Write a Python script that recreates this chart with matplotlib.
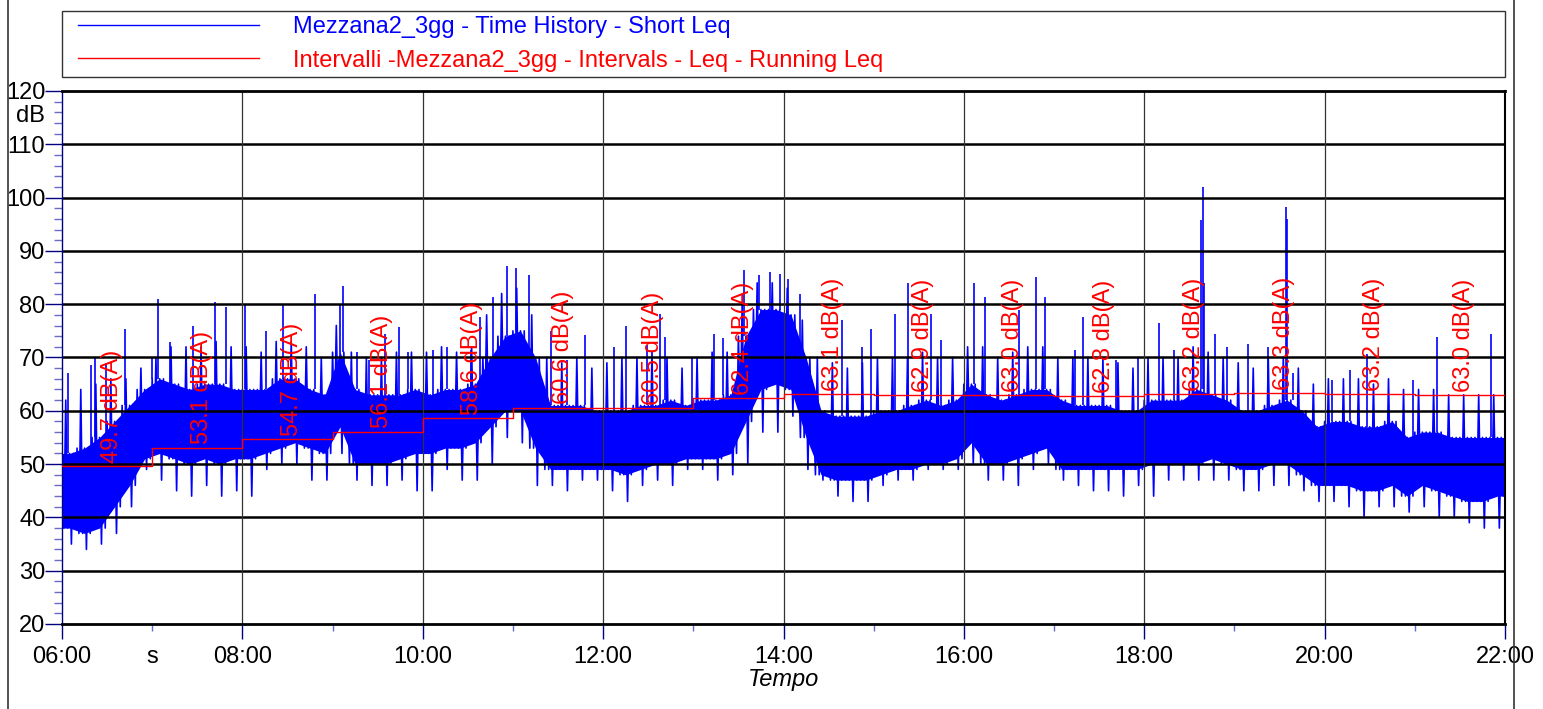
import numpy as np
import matplotlib.pyplot as plt
from matplotlib.lines import Line2D
from matplotlib.legend_handler import HandlerLine2D
from matplotlib.ticker import FixedLocator, FixedFormatter

plt.rcParams['font.family'] = ['Liberation Sans', 'DejaVu Sans']
plt.rcParams['path.simplify'] = False

# Short Leq time history, read per 10 minutes from 06:00 to 22:00
# core band (dense part) and the usual whisker extremes in each slot
core_lo = [38, 37, 38, 42, 46, 51, 52, 51, 50, 51, 50, 51,
           51, 52, 53, 54, 53, 52, 57, 50, 50, 50, 51, 52,
           52, 53, 53, 54, 57, 60, 60, 53, 49, 49, 49, 49,
           49, 48, 49, 50, 50, 51, 51, 51, 52, 58, 64, 65,
           64, 55, 48, 47, 47, 47, 48, 49, 49, 50, 50, 51,
           54, 50, 50, 51, 52, 53, 49, 49, 49, 49, 49, 49,
           50, 50, 50, 50, 51, 50, 49, 49, 50, 50, 48, 46,
           46, 46, 45, 45, 46, 44, 46, 45, 44, 43, 43, 44]
core_hi = [52, 53, 55, 58, 61, 64, 66, 65, 64, 65, 65, 64,
           64, 64, 66, 66, 64, 63, 71, 64, 63, 63, 63, 64,
           63, 64, 64, 65, 70, 74, 75, 70, 61, 61, 61, 60,
           60, 60, 61, 61, 62, 61, 62, 62, 63, 74, 79, 79,
           78, 70, 60, 59, 59, 59, 60, 60, 61, 62, 61, 62,
           65, 63, 62, 63, 64, 64, 62, 61, 61, 61, 60, 60,
           62, 62, 62, 64, 63, 62, 60, 60, 61, 62, 60, 57,
           58, 58, 57, 57, 58, 55, 56, 56, 55, 55, 55, 55]
slot_min = [35, 34, 35, 37, 42, 49, 47, 45, 44, 46, 44, 45,
            44, 49, 50, 50, 47, 47, 52, 47, 46, 46, 47, 45,
            45, 49, 47, 47, 50, 55, 54, 46, 46, 45, 47, 47,
            45, 43, 46, 47, 46, 49, 49, 47, 48, 50, 56, 56,
            59, 49, 47, 44, 43, 43, 46, 47, 47, 49, 49, 49,
            50, 47, 47, 46, 49, 50, 47, 46, 45, 45, 44, 46,
            44, 47, 47, 47, 47, 47, 45, 45, 46, 46, 45, 43,
            43, 42, 40, 42, 42, 41, 42, 40, 40, 39, 38, 38]
slot_max = [62, 64, 65, 66, 66, 68, 70, 72, 72, 72, 73, 72,
            72, 71, 73, 73, 72, 70, 76, 71, 70, 70, 71, 71,
            71, 72, 71, 72, 78, 82, 83, 78, 70, 69, 70, 68,
            69, 70, 70, 71, 70, 68, 70, 71, 71, 80, 84, 84,
            83, 77, 70, 69, 68, 69, 70, 70, 70, 71, 70, 70,
            72, 72, 70, 71, 72, 72, 70, 70, 70, 70, 69, 68,
            70, 70, 70, 72, 71, 70, 69, 68, 70, 70, 68, 65,
            66, 66, 66, 65, 66, 64, 64, 64, 63, 63, 63, 63]

# single tall events
spike_times = ["06:04", "06:19", "06:22", "06:29", "06:42", "07:00", "07:04", "07:12",
               "07:27", "07:42", "07:49", "08:02", "08:16", "08:27", "08:48", "09:05",
               "09:07", "09:16", "09:24", "09:35", "09:44", "09:50", "10:07", "10:16",
               "10:32", "10:38", "10:47", "10:56", "11:02", "11:11", "11:25", "11:36",
               "11:48", "12:07", "12:15", "12:29", "12:38", "12:41", "12:59", "13:14",
               "13:20", "13:34", "13:44", "13:51", "13:58", "14:03", "14:11", "14:39",
               "14:52", "14:58", "15:14", "15:23", "15:38", "15:45", "16:07", "16:14",
               "16:37", "16:48", "16:54", "17:14", "17:19", "17:41", "17:56", "18:10",
               "18:20", "18:38", "18:39", "18:40", "18:47", "18:55", "19:09", "19:22",
               "19:34", "19:35", "19:39", "20:05", "20:17", "20:28", "20:59", "21:15",
               "21:51"]
spike_levels = [67, 68.6, 70, 69, 75.4, 70, 81, 73,
                76, 80.4, 79.5, 80, 75, 80, 82, 80,
                83.4, 71, 69.5, 74.5, 75.7, 71, 71.4, 72,
                71.4, 77.6, 81.4, 87.1, 86.7, 85.4, 75, 69.5,
                74.2, 72, 76, 72.3, 78.2, 73.9, 70.1, 74.5,
                73.6, 86.4, 85.4, 86, 85.7, 84.8, 82, 77,
                72, 75.4, 78.2, 83.9, 78.2, 73.2, 83.9, 81.4,
                78.9, 85.1, 81.4, 71.4, 77.6, 69.5, 70.1, 76.4,
                71.4, 95.8, 102, 84, 74.5, 72, 72.6, 72,
                98.2, 96, 67, 65.8, 67.6, 70.7, 65.8, 73.9,
                74.5]

# running Leq per hour interval
leq_hours = [6, 7, 8, 9, 10, 11, 12, 13, 14, 15, 16, 17, 18, 19, 20, 21]
leq_values = [49.7, 53.1, 54.7, 56.1, 58.6, 60.6, 60.5, 62.4,
              63.1, 62.9, 63.0, 62.8, 63.2, 63.3, 63.2, 63.0]


def hours(s):
    h, m = s.split(':')
    return int(h) + int(m) / 60


BLUE = '#0000ff'
RED = '#ff0000'
NAVY = '#000080'
TICK_LIGHT = '#6a6ac8'

fig = plt.figure(figsize=(15.43, 7.09), dpi=100)
ax = fig.add_axes([62 / 1543, 1 - 624 / 709, (1505 - 62) / 1543, (624 - 91) / 709])

# dense core of the trace, one reading per 10 minute slot
t_slot = 6 + np.arange(len(core_lo)) / 6
t_fill = np.concatenate([[6], t_slot + 5 / 60, [22]])
lo_fill = [core_lo[0]] + core_lo + [core_lo[-1]]
hi_fill = [core_hi[0]] + core_hi + [core_hi[-1]]
ax.fill_between(t_fill, lo_fill, hi_fill, color=BLUE, lw=0, zorder=1)

# each slot also swings out to its extremes
t_trace = []
v_trace = []
for i in range(len(core_lo)):
    swing = [core_hi[i], core_lo[i], slot_max[i], core_lo[i],
             core_hi[i], slot_min[i], core_hi[i], core_lo[i]]
    for k, v in enumerate(swing):
        t_trace.append(t_slot[i] + k * 1.25 / 60)
        v_trace.append(v)
t_trace.append(22)
v_trace.append(core_hi[-1])
ax.plot(t_trace, v_trace, color=BLUE, lw=1.2, zorder=1)

st = np.array([hours(s) for s in spike_times])
base = [core_hi[min(int((t - 6) * 6), len(core_hi) - 1)] for t in st]
ax.vlines(st, base, spike_levels, color=BLUE, lw=1.2, zorder=1)

ax.step(leq_hours + [22], leq_values + [leq_values[-1]], where='post',
        color=RED, lw=1, zorder=3)
for h, v in zip(leq_hours, leq_values):
    ax.text(h + 0.55, v + 0.6, f"{v:.1f} dB(A)", rotation=90, color=RED,
            fontsize=17, ha='center', va='bottom', zorder=4)

ax.set_xlim(6, 22)
ax.set_ylim(20, 120)

# grid on top of the trace
for y in range(30, 120, 10):
    ax.axhline(y, color='black', lw=1.8, zorder=2.5)
for x in range(8, 22, 2):
    ax.axvline(x, color='#333333', lw=0.9, zorder=2.5)

ax.set_xticks(range(6, 23, 2))
ax.set_xticklabels([f"{h:02d}:00" for h in range(6, 23, 2)])
ax.xaxis.set_minor_locator(FixedLocator(list(range(7, 22, 2))))
ax.xaxis.set_minor_formatter(FixedFormatter(["s"] + [""] * 7))
ax.set_yticks(range(20, 121, 10))
ax.yaxis.set_minor_locator(FixedLocator(list(range(22, 120, 2))))

ax.tick_params(axis='x', which='major', length=11, width=1, color=NAVY,
               labelsize=17, pad=5)
ax.tick_params(axis='x', which='minor', length=5, width=1, color=TICK_LIGHT,
               labelsize=17, pad=11)
ax.tick_params(axis='y', which='major', length=12, width=1, color=NAVY,
               labelsize=17, pad=0)
ax.tick_params(axis='y', which='minor', length=6, width=1, color=TICK_LIGHT)

for side in ['top', 'bottom']:
    ax.spines[side].set_linewidth(2)
    ax.spines[side].set_color('black')
ax.spines['left'].set_color(NAVY)
ax.spines['left'].set_linewidth(1)
ax.spines['right'].set_linewidth(1.5)
ax.spines['right'].set_color('black')

ax.annotate("dB", xy=(0, 115.3), xycoords=('axes fraction', 'data'),
            xytext=(-12, 0), textcoords='offset points',
            ha='right', va='center', fontsize=17)
ax.set_xlabel("Tempo", fontsize=17, style='italic', labelpad=0)

handles = [Line2D([], [], color=BLUE, lw=1),
           Line2D([], [], color=RED, lw=1)]
labels = ["Mezzana2_3gg - Time History - Short Leq",
          "Intervalli -Mezzana2_3gg - Intervals - Leq - Running Leq"]
leg = ax.legend(handles, labels, loc='upper left', bbox_to_anchor=(0, 1.150, 1, 0),
                mode='expand', borderaxespad=0, fontsize=17, handlelength=8.1,
                handletextpad=1.45, labelspacing=0.47, borderpad=0.23,
                fancybox=False, framealpha=1, edgecolor='#333333',
                handler_map={Line2D: HandlerLine2D(xpad=0.45)})
leg.get_frame().set_linewidth(1)
leg.get_texts()[0].set_color(BLUE)
leg.get_texts()[1].set_color(RED)

# outer frame lines at the figure sides
fig.add_artist(Line2D([8 / 1543, 8 / 1543], [0, 1], transform=fig.transFigure,
                      color='#333333', lw=1.2))
fig.add_artist(Line2D([1514 / 1543, 1514 / 1543], [0, 1], transform=fig.transFigure,
                      color='#333333', lw=1.2))

fig.savefig("out.png", dpi=100)
